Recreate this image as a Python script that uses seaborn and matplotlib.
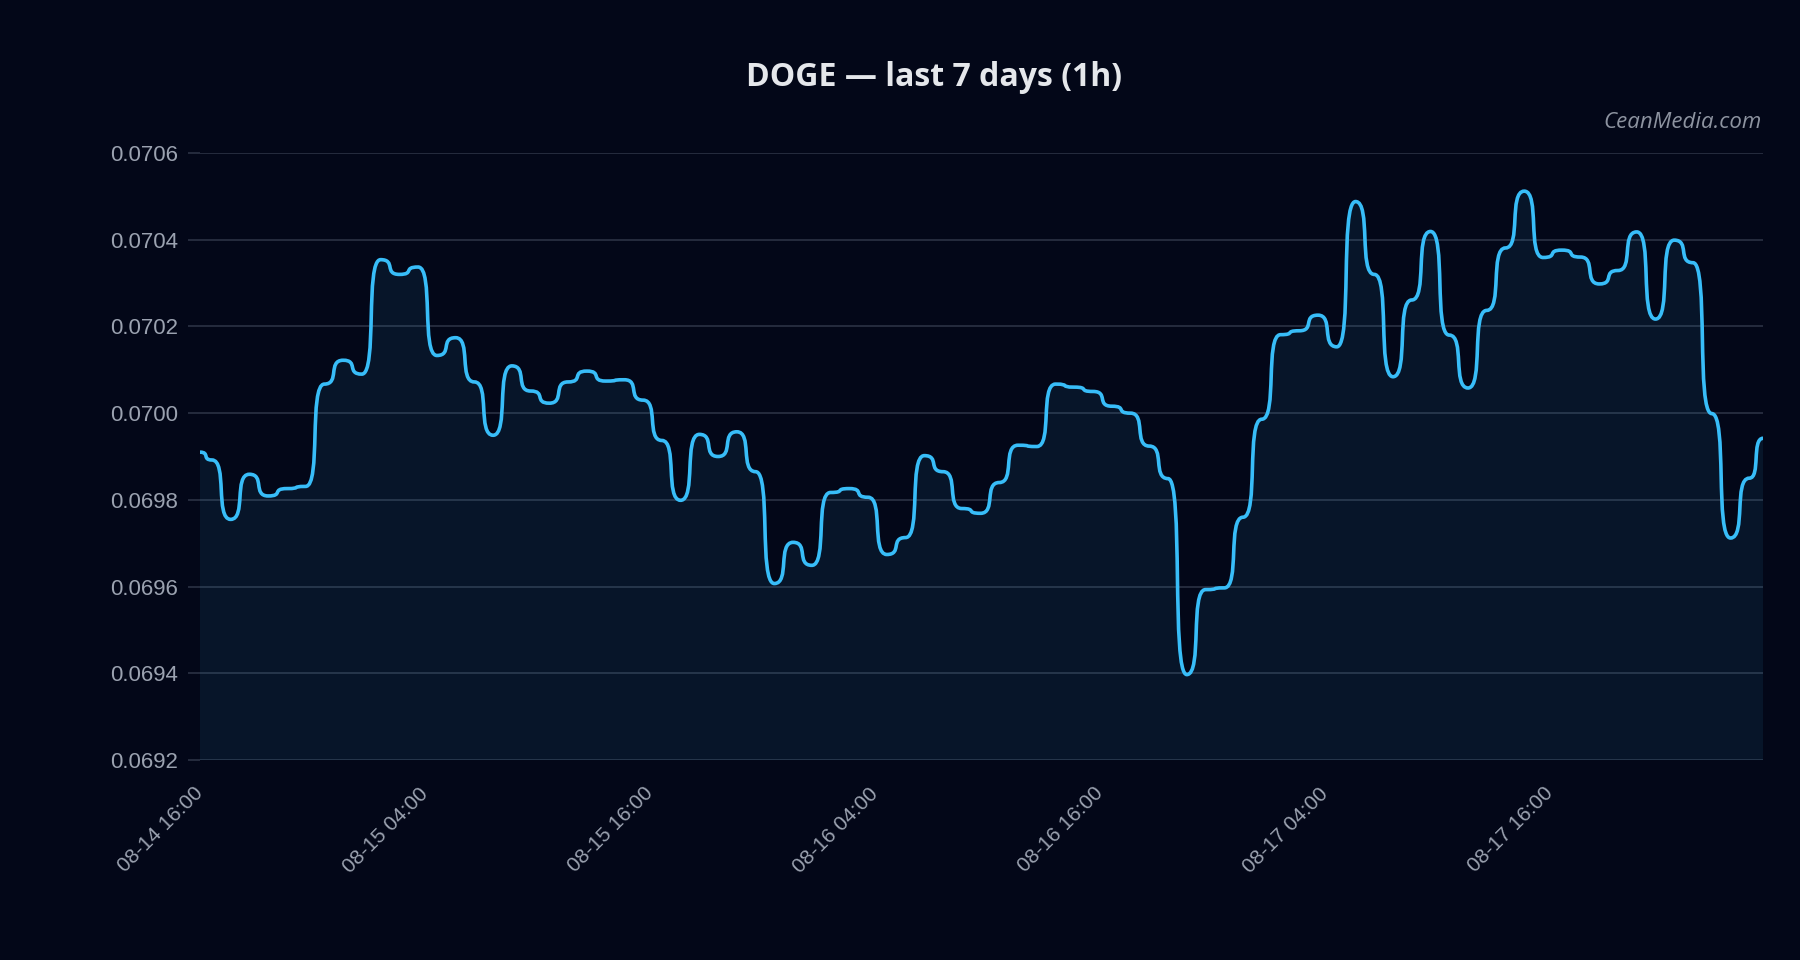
import numpy as np
import pandas as pd
import matplotlib
matplotlib.use("Agg")
import matplotlib.pyplot as plt
import matplotlib.dates as mdates
from matplotlib.path import Path
from matplotlib.patches import PathPatch
import seaborn as sns

# ---------------- data ----------------
first_time = "2025-08-14 16:00"
hourly_start = "2025-08-14 16:38"
last_time = "2025-08-18 03:22"
first_price = 0.069910
last_price = 0.069942
hourly_prices = [
    0.069892, 0.069755, 0.069859, 0.069809, 0.069826, 0.069831, 0.070067, 0.070122,
    0.070090, 0.070354, 0.070320, 0.070337, 0.070133, 0.070174, 0.070072, 0.069949,
    0.070109, 0.070051, 0.070023, 0.070072, 0.070097, 0.070074, 0.070077, 0.070030,
    0.069937, 0.069799, 0.069951, 0.069900, 0.069957, 0.069865, 0.069607, 0.069702,
    0.069649, 0.069817, 0.069826, 0.069806, 0.069674, 0.069713, 0.069902, 0.069865,
    0.069780, 0.069769, 0.069840, 0.069926, 0.069923, 0.070067, 0.070060, 0.070050,
    0.070016, 0.070000, 0.069924, 0.069849, 0.069397, 0.069593, 0.069597, 0.069760,
    0.069986, 0.070181, 0.070190, 0.070226, 0.070153, 0.070488, 0.070320, 0.070084,
    0.070261, 0.070419, 0.070180, 0.070058, 0.070237, 0.070381, 0.070512, 0.070359,
    0.070376, 0.070360, 0.070298, 0.070329, 0.070418, 0.070217, 0.070399, 0.070347,
    0.069999, 0.069712, 0.069850,
]
y_ticks = [0.0692, 0.0694, 0.0696, 0.0698, 0.0700, 0.0702, 0.0704, 0.0706]
title_text = "DOGE \u2014 last 7 days (1h)"
watermark = "CeanMedia.com"

# ---------------- frame ----------------
hourly_times = pd.date_range(hourly_start, periods=len(hourly_prices), freq="h")
times = pd.DatetimeIndex([pd.Timestamp(first_time)]).append(hourly_times).append(
    pd.DatetimeIndex([pd.Timestamp(last_time)]))
prices = [first_price] + hourly_prices + [last_price]
df = pd.DataFrame({"time": times, "price": prices})

BG = "#030718"
GRID = "#2b3244"
LINE = "#38bdf8"
TICK = "#9ba2b0"

sns.set_theme(style="dark", rc={
    "figure.facecolor": BG,
    "axes.facecolor": BG,
    "axes.edgecolor": BG,
    "grid.color": GRID,
})
plt.rcParams["font.family"] = ["Liberation Sans", "DejaVu Sans"]

fig = plt.figure(figsize=(18, 9.6), dpi=100)
ax = fig.add_axes([200 / 1800, 1 - 760 / 960, (1763 - 200) / 1800, (760 - 153) / 960])
ax.set_facecolor(BG)

# seaborn sets up the date scale from the data (invisible helper line)
sns.lineplot(data=df, x="time", y="price", ax=ax, linewidth=0, legend=False)

# smooth curve with flat tangents at every data point, drawn as Bezier segments
xs = mdates.date2num(df["time"].dt.to_pydatetime())
ys = df["price"].to_numpy()
c = 0.84
verts = [(xs[0], ys[0])]
codes = [Path.MOVETO]
for i in range(1, len(xs)):
    dx = xs[i] - xs[i - 1]
    verts += [(xs[i - 1] + c * dx, ys[i - 1]), (xs[i] - c * dx, ys[i]), (xs[i], ys[i])]
    codes += [Path.CURVE4] * 3
ymin, ymax = y_ticks[0], y_ticks[-1]
fill_verts = verts + [(xs[-1], ymin), (xs[0], ymin), (xs[0], ys[0])]
fill_codes = codes + [Path.LINETO, Path.LINETO, Path.CLOSEPOLY]
ax.add_patch(PathPatch(Path(fill_verts, fill_codes), facecolor=LINE, alpha=0.08,
                       edgecolor="none", zorder=2))
ax.add_patch(PathPatch(Path(verts, codes), facecolor="none", edgecolor=LINE,
                       linewidth=2.6, capstyle="round", joinstyle="round", zorder=3))

ax.set_xlim(xs[0], xs[-1])
ax.set_ylim(ymin, ymax)
ax.set_yticks(y_ticks)
ax.yaxis.set_major_formatter(matplotlib.ticker.FuncFormatter(lambda v, p: f"{v:.4f}"))
ax.xaxis.set_major_locator(mdates.HourLocator(byhour=[4, 16]))
ax.xaxis.set_major_formatter(mdates.DateFormatter("%m-%d %H:%M"))
ax.set_xlabel("")
ax.set_ylabel("")

ax.grid(True, axis="y", color=GRID, linewidth=1.2)
ax.grid(False, axis="x")
for s in ax.spines.values():
    s.set_visible(False)

ax.tick_params(axis="y", length=9, width=1.2, color=GRID, pad=7, labelsize=16,
               labelcolor=TICK, left=True)
ax.tick_params(axis="x", length=0, pad=22, labelsize=15, labelcolor=TICK)
for lab in ax.get_xticklabels():
    lab.set_rotation(45)
    lab.set_ha("right")
    lab.set_va("center")
    lab.set_rotation_mode("anchor")

fig.text(934 / 1800, 1 - 77 / 960, title_text, ha="center", va="center",
         fontsize=23, fontweight="bold", color="#e5e7eb", family=["Open Sans", "DejaVu Sans"])
fig.text(1762 / 1800, 1 - 122 / 960, watermark, ha="right", va="center",
         fontsize=16, style="italic", color="#8d93a0", family=["Open Sans", "DejaVu Sans"])

fig.savefig("out.png", dpi=100, facecolor=BG)
